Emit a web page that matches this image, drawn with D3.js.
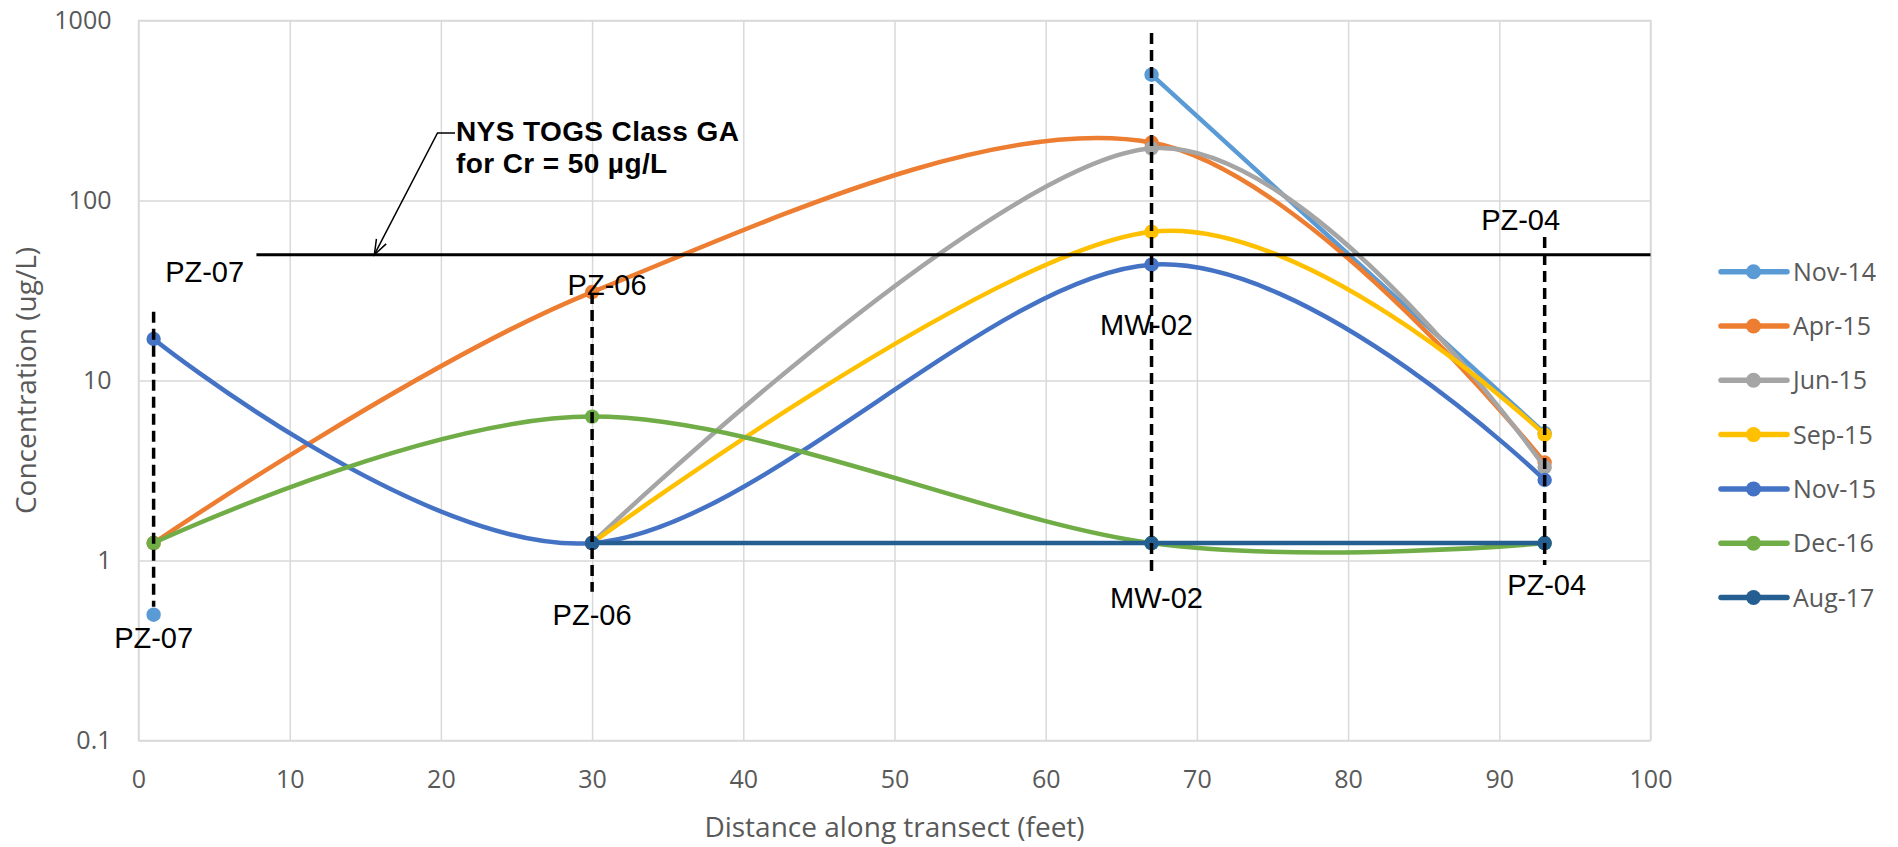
<!DOCTYPE html>
<html>
<head>
<meta charset="utf-8">
<script src="https://cdn.jsdelivr.net/npm/d3@7"></script>
<style>
  html, body { margin: 0; padding: 0; background: #ffffff; }
  svg { display: block; }
</style>
</head>
<body>
<script>
// Monitoring wells along the transect and their distance (feet)
const wells = ["PZ-07", "PZ-06", "MW-02", "PZ-04"];
const distances = [1, 30, 67, 93];

// Chromium concentration (ug/L) per sampling event; null = not sampled
const seriesNames = ["Nov-14", "Apr-15", "Jun-15", "Sep-15", "Nov-15", "Dec-16", "Aug-17"];
const nov14 = [0.5, null, 500, 5.1];
const apr15 = [1.25, 31, 210, 3.5];
const jun15 = [null, 1.25, 195, 3.3];
const sep15 = [null, 1.25, 67, 5.0];
const nov15 = [17, 1.25, 44, 2.8];
const dec16 = [1.25, 6.3, 1.25, 1.25];
const aug17 = [null, 1.25, 1.25, 1.25];
const seriesValues = [nov14, apr15, jun15, sep15, nov15, dec16, aug17];
const seriesColors = ["#5B9BD5", "#ED7D31", "#A5A5A5", "#FFC000", "#4472C4", "#70AD47", "#255E91"];

// Regulatory standard
const standardValue = 50;
const standardStartX = 7.8;
const standardLines = ["NYS TOGS Class GA", "for Cr = 50 \u00B5g/L"];

// Axis ticks
const xTicks = [0, 10, 20, 30, 40, 50, 60, 70, 80, 90, 100];
const yTicks = [0.1, 1, 10, 100, 1000];
const yTickLabels = ["0.1", "1", "10", "100", "1000"];

// Layout
const W = 1898, H = 847;
const plot = { left: 138.5, right: 1650.5, top: 20.5, bottom: 740.5 };

// Well marker lines: dashed extent (px) and label offsets
const wellLines = [
  { top: 311.7, bottom: 606.7, upDx: 51, upY: 282, lowDx: 0, lowY: 648 },
  { top: 293, bottom: 591.7, upDx: 15, upY: 295, lowDx: 0, lowY: 625 },
  { top: 33, bottom: 571.7, upDx: -5, upY: 335, lowDx: 5, lowY: 608 },
  { top: 237, bottom: 565, upDx: -24, upY: 230, lowDx: 2, lowY: 595 }
];

const svg = d3.select("body").append("svg")
  .attr("width", W).attr("height", H);

const x = d3.scaleLinear().domain([0, 100]).range([plot.left, plot.right]);
const y = d3.scaleLog().domain([0.1, 1000]).range([plot.bottom, plot.top]);

const gridColor = "#D9D9D9";
const tickFont = "'Open Sans', sans-serif";

// X axis with vertical gridlines
const gx = svg.append("g")
  .attr("transform", `translate(0,${plot.bottom})`)
  .call(d3.axisBottom(x).tickValues(xTicks).tickFormat(d3.format("d"))
    .tickSize(-(plot.bottom - plot.top)).tickPadding(30));
gx.select(".domain").remove();
gx.selectAll(".tick line").attr("stroke", gridColor).attr("stroke-width", 1.5);
gx.selectAll(".tick text").attr("fill", "#595959")
  .style("font-family", tickFont).style("font-size", "25px");

// Y axis (log) with horizontal gridlines
const gy = svg.append("g")
  .attr("transform", `translate(${plot.left},0)`)
  .call(d3.axisLeft(y).tickValues(yTicks).tickFormat((d, i) => yTickLabels[i])
    .tickSize(-(plot.right - plot.left)).tickPadding(27));
gy.select(".domain").remove();
gy.selectAll(".tick line").attr("stroke", gridColor).attr("stroke-width", 1.5);
gy.selectAll(".tick text").attr("fill", "#595959")
  .style("font-family", tickFont).style("font-size", "25px");

// Plot frame
svg.append("rect")
  .attr("x", plot.left).attr("y", plot.top)
  .attr("width", plot.right - plot.left).attr("height", plot.bottom - plot.top)
  .attr("fill", "none").attr("stroke", gridColor).attr("stroke-width", 1.5);

// Axis titles
svg.append("text")
  .attr("x", (plot.left + plot.right) / 2).attr("y", 837)
  .attr("text-anchor", "middle").attr("fill", "#595959")
  .style("font-family", tickFont).style("font-size", "28px")
  .text("Distance along transect (feet)");

svg.append("text")
  .attr("transform", `translate(36,${(plot.top + plot.bottom) / 2}) rotate(-90)`)
  .attr("text-anchor", "middle").attr("fill", "#595959")
  .style("font-family", tickFont).style("font-size", "28px")
  .text("Concentration (ug/L)");

// Series: smoothed lines and markers
const line = d3.line()
  .defined(d => d.v != null)
  .x(d => x(d.d))
  .y(d => y(d.v))
  .curve(d3.curveCardinal.tension(0));

const series = seriesNames.map((name, i) => ({
  name,
  color: seriesColors[i],
  points: distances.map((d, j) => ({ d, v: seriesValues[i][j] }))
}));

const gSeries = svg.append("g");
series.forEach(s => {
  const g = gSeries.append("g");
  g.append("path")
    .attr("d", line(s.points))
    .attr("fill", "none")
    .attr("stroke", s.color)
    .attr("stroke-width", 4.5)
    .attr("stroke-linejoin", "round")
    .attr("stroke-linecap", "round");
  g.selectAll("circle")
    .data(s.points.filter(p => p.v != null))
    .join("circle")
    .attr("cx", p => x(p.d))
    .attr("cy", p => y(p.v))
    .attr("r", 7.2)
    .attr("fill", s.color);
});

// Regulatory standard line
const yStd = y(standardValue);
svg.append("line")
  .attr("x1", x(standardStartX)).attr("x2", plot.right)
  .attr("y1", yStd).attr("y2", yStd)
  .attr("stroke", "#000").attr("stroke-width", 3);

// Well dashed lines and labels
const labelFont = "'Liberation Sans', Arial, sans-serif";
const gWells = svg.append("g");
wells.forEach((w, i) => {
  const L = wellLines[i];
  const xp = x(distances[i]);
  gWells.append("line")
    .attr("x1", xp).attr("x2", xp)
    .attr("y1", L.top).attr("y2", L.bottom)
    .attr("stroke", "#000").attr("stroke-width", 3.5)
    .attr("stroke-dasharray", "11,6");
  gWells.append("text")
    .attr("x", xp + L.upDx).attr("y", L.upY)
    .attr("text-anchor", "middle").attr("fill", "#000")
    .style("font-family", labelFont).style("font-size", "29px")
    .text(w);
  gWells.append("text")
    .attr("x", xp + L.lowDx).attr("y", L.lowY)
    .attr("text-anchor", "middle").attr("fill", "#000")
    .style("font-family", labelFont).style("font-size", "29px")
    .text(w);
});

// Standard callout with leader arrow
const callout = svg.append("g");
const tipX = x(15.6), tipY = yStd;
const elbowX = 437.5, elbowY = 133;
callout.append("path")
  .attr("d", `M455,${elbowY} L${elbowX},${elbowY} L${tipX},${tipY}`)
  .attr("fill", "none").attr("stroke", "#000").attr("stroke-width", 1.5);
// open arrowhead at the tip
const ang = Math.atan2(tipY - elbowY, tipX - elbowX);
const ah = 16, spread = 0.35;
callout.append("path")
  .attr("d", `M${tipX - ah * Math.cos(ang - spread)},${tipY - ah * Math.sin(ang - spread)} L${tipX},${tipY} L${tipX - ah * Math.cos(ang + spread)},${tipY - ah * Math.sin(ang + spread)}`)
  .attr("fill", "none").attr("stroke", "#000").attr("stroke-width", 1.5);
callout.selectAll("text")
  .data(standardLines)
  .join("text")
  .attr("x", 456)
  .attr("y", (d, i) => 141 + i * 31.5)
  .attr("fill", "#000")
  .style("font-family", labelFont).style("font-size", "28px").style("font-weight", "bold")
  .style("letter-spacing", "0.4px")
  .text(d => d);

// Legend
const legend = svg.append("g");
series.forEach((s, i) => {
  const ly = 271.7 + i * 54.3;
  legend.append("line")
    .attr("x1", 1721).attr("x2", 1787)
    .attr("y1", ly).attr("y2", ly)
    .attr("stroke", s.color).attr("stroke-width", 5.5)
    .attr("stroke-linecap", "round");
  legend.append("circle")
    .attr("cx", 1753.5).attr("cy", ly).attr("r", 7.5).attr("fill", s.color);
  legend.append("text")
    .attr("x", 1793).attr("y", ly).attr("dy", "0.36em")
    .attr("fill", "#595959")
    .style("font-family", tickFont).style("font-size", "25px")
    .text(s.name);
});
</script>
</body>
</html>
